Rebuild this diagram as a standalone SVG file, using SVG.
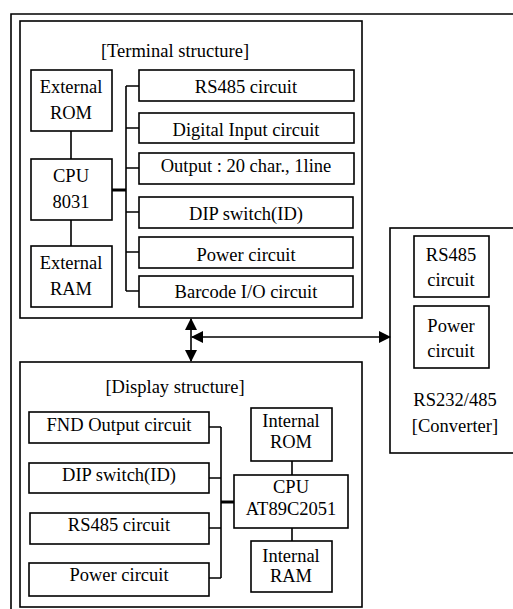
<svg xmlns="http://www.w3.org/2000/svg" width="513" height="609" viewBox="0 0 513 609">
<style>
.b{fill:#fff;stroke:#000;stroke-width:1.6}
.f{fill:none;stroke:#000;stroke-width:1.6}
.c{fill:none;stroke:#000;stroke-width:1.6}
.t{font-family:"Liberation Serif","Times New Roman",serif;font-size:18.5px;fill:#000;text-anchor:middle}
</style>
<defs>
<marker id="ah" viewBox="0 0 12 12" refX="11" refY="6" markerWidth="12" markerHeight="12" markerUnits="userSpaceOnUse" orient="auto-start-reverse">
<path d="M0,0 L12,6 L0,12 Z" fill="#000"/>
</marker>
</defs>
<rect width="513" height="609" fill="#fff"/>
<g id="frame">
<path class="f" d="M11,620 V14 H520"/>
</g>
<g id="terminal">
<rect class="f" x="20" y="21" width="342" height="297"/>
<text class="t" x="175" y="57">[Terminal structure]</text>
</g>
<g id="ext-rom"><rect class="b" x="31" y="70" width="81" height="61"/><text class="t" x="71" y="93">External</text><text class="t" x="71" y="119">ROM</text></g>
<g id="cpu8031"><rect class="b" x="31" y="159" width="81" height="61"/><text class="t" x="71" y="182">CPU</text><text class="t" x="71" y="208">8031</text></g>
<g id="ext-ram"><rect class="b" x="31" y="246" width="81" height="61"/><text class="t" x="71" y="269">External</text><text class="t" x="71" y="295">RAM</text></g>
<g id="t-rs485"><rect class="b" x="139" y="70" width="215" height="31"/><text class="t" x="246" y="93">RS485 circuit</text></g>
<g id="t-digital"><rect class="b" x="139" y="113" width="215" height="30"/><text class="t" x="246" y="136">Digital Input circuit</text></g>
<g id="t-output"><rect class="b" x="139" y="153" width="215" height="31"/><text class="t" x="246" y="172">Output : 20 char., 1line</text></g>
<g id="t-dip"><rect class="b" x="139" y="197" width="214" height="31"/><text class="t" x="246" y="220">DIP switch(ID)</text></g>
<g id="t-power"><rect class="b" x="139" y="237" width="214" height="31"/><text class="t" x="246" y="261">Power circuit</text></g>
<g id="t-barcode"><rect class="b" x="139" y="276" width="214" height="31"/><text class="t" x="246" y="298">Barcode I/O circuit</text></g>
<g id="display">
<rect class="f" x="20" y="362" width="342" height="245"/>
<text class="t" x="175" y="393">[Display structure]</text>
</g>
<g id="d-fnd"><rect class="b" x="29" y="412" width="180" height="31"/><text class="t" x="119" y="431">FND Output circuit</text></g>
<g id="d-dip"><rect class="b" x="29" y="463" width="180" height="30"/><text class="t" x="119" y="481">DIP switch(ID)</text></g>
<g id="d-rs485"><rect class="b" x="30" y="513" width="179" height="31"/><text class="t" x="119" y="531">RS485 circuit</text></g>
<g id="d-power"><rect class="b" x="29" y="563" width="180" height="33"/><text class="t" x="119" y="581">Power circuit</text></g>
<g id="int-rom"><rect class="b" x="251" y="408" width="81" height="53"/><text class="t" x="291" y="427">Internal</text><text class="t" x="291" y="448">ROM</text></g>
<g id="cpu-at"><rect class="b" x="234" y="475" width="114" height="53"/><text class="t" x="291" y="493">CPU</text><text class="t" x="291" y="515">AT89C2051</text></g>
<g id="int-ram"><rect class="b" x="251" y="541" width="81" height="51"/><text class="t" x="291" y="562">Internal</text><text class="t" x="291" y="582">RAM</text></g>
<g id="converter">
<rect class="f" x="390" y="228" width="140" height="225"/>
<text class="t" x="455" y="406">RS232/485</text>
<text class="t" x="455" y="432">[Converter]</text>
</g>
<g id="c-rs485"><rect class="b" x="414" y="236" width="75" height="61"/><text class="t" x="451" y="261">RS485</text><text class="t" x="451" y="286">circuit</text></g>
<g id="c-power"><rect class="b" x="414" y="306" width="75" height="62"/><text class="t" x="451" y="332">Power</text><text class="t" x="451" y="357">circuit</text></g>
<g id="connectors">
<path class="c" d="M71,131 V159 M71,220 V246"/>
<path class="c" d="M126,86 V291 M126,86 H139 M126,128 H139 M126,168 H139 M126,212 H139 M126,252 H139 M126,291 H139"/>
<path fill="none" stroke="#000" stroke-width="3" d="M112,190 H126"/>
<path class="c" d="M292,461 V475 M292,528 V541"/>
<path class="c" d="M221,427 V578 M209,427 H221 M209,478 H221 M209,528 H221 M209,578 H221"/>
<path fill="none" stroke="#000" stroke-width="3" d="M221,502 H234"/>
<path class="c" d="M191,319 V361" marker-start="url(#ah)" marker-end="url(#ah)"/>
<path class="c" d="M192,337 H390" marker-start="url(#ah)" marker-end="url(#ah)"/>
</g>
</svg>
